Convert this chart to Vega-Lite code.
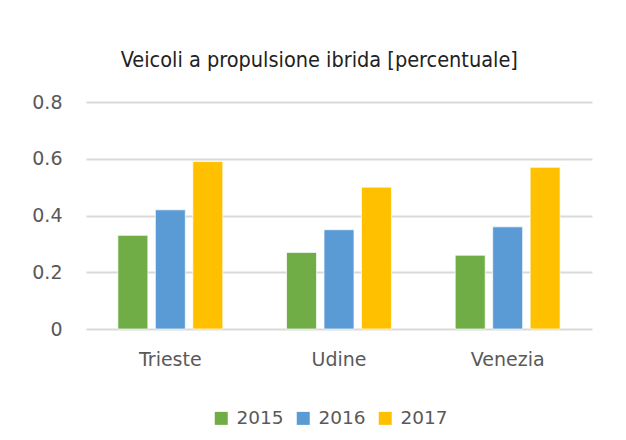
{
  "$schema": "https://vega.github.io/schema/vega-lite/v6.json",
  "width": 506,
  "height": 227,
  "autosize": "none",
  "padding": {"left": 86, "top": 102, "right": 34, "bottom": 111},
  "background": "white",
  "title": {
    "text": "Veicoli a propulsione ibrida [percentuale]",
    "anchor": "start",
    "dx": 89,
    "baseline": "alphabetic",
    "offset": 5,
    "font": "DejaVu Sans Condensed",
    "fontSize": 21.5,
    "fontWeight": "normal",
    "color": "#222222"
  },
  "data": {
    "values": [
      {"citta": "Trieste", "anno": "2015", "valore": 0.33},
      {"citta": "Trieste", "anno": "2016", "valore": 0.42},
      {"citta": "Trieste", "anno": "2017", "valore": 0.59},
      {"citta": "Udine", "anno": "2015", "valore": 0.27},
      {"citta": "Udine", "anno": "2016", "valore": 0.35},
      {"citta": "Udine", "anno": "2017", "valore": 0.50},
      {"citta": "Venezia", "anno": "2015", "valore": 0.26},
      {"citta": "Venezia", "anno": "2016", "valore": 0.36},
      {"citta": "Venezia", "anno": "2017", "valore": 0.57}
    ]
  },
  "mark": {"type": "bar", "stroke": "white", "strokeWidth": 0.7},
  "encoding": {
    "x": {
      "field": "citta",
      "type": "nominal",
      "sort": ["Trieste", "Udine", "Venezia"],
      "scale": {"paddingInner": 0.378, "paddingOuter": 0.189},
      "axis": {
        "title": null,
        "labelAngle": 0,
        "ticks": false,
        "domain": false,
        "labelPadding": 21,
        "labelFont": "DejaVu Sans",
        "labelFontSize": 19,
        "labelColor": "#595959"
      }
    },
    "xOffset": {
      "field": "anno",
      "type": "nominal",
      "scale": {"paddingInner": 0.2, "paddingOuter": 0}
    },
    "y": {
      "field": "valore",
      "type": "quantitative",
      "scale": {"domain": [0, 0.8]},
      "axis": {
        "title": null,
        "values": [0, 0.2, 0.4, 0.6, 0.8],
        "format": ".1~f",
        "ticks": false,
        "domain": false,
        "labelPadding": 24,
        "labelFont": "DejaVu Sans",
        "labelFontSize": 19,
        "labelColor": "#595959",
        "gridColor": "#D9D9D9",
        "gridWidth": 2
      }
    },
    "color": {
      "field": "anno",
      "type": "nominal",
      "scale": {"domain": ["2015", "2016", "2017"], "range": ["#70AD47", "#5B9BD5", "#FFC000"]},
      "legend": {
        "title": null,
        "orient": "none",
        "legendX": 126,
        "legendY": 307,
        "padding": 0,
        "direction": "horizontal",
        "symbolType": "square",
        "symbolSize": 169,
        "symbolStrokeWidth": 0,
        "labelFont": "DejaVu Sans",
        "labelFontSize": 18.5,
        "labelColor": "#595959",
        "labelOffset": 6,
        "columnPadding": 10
      }
    }
  },
  "config": {"view": {"stroke": null}}
}
